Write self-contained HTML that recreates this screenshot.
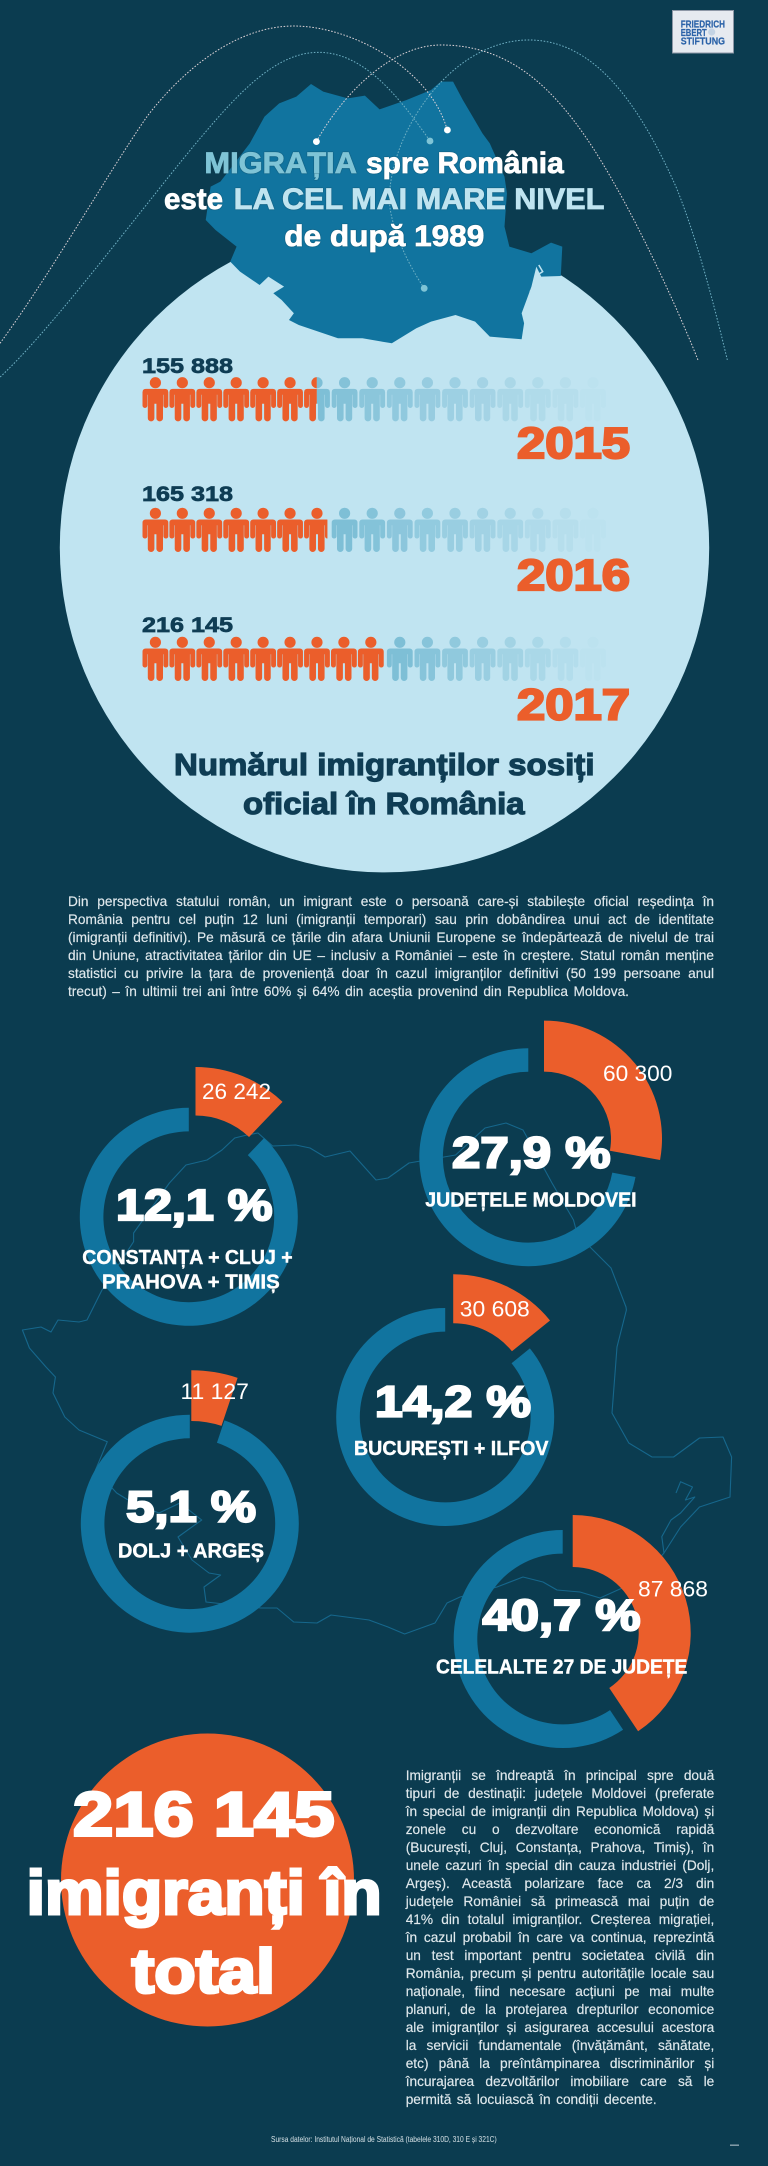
<!DOCTYPE html>
<html lang="ro">
<head>
<meta charset="utf-8">
<title>Migrația spre România</title>
<style>
html,body{margin:0;padding:0;background:#0b3c50;}
#page{position:relative;width:768px;height:2166px;overflow:hidden;background:#0b3c50;font-family:"Liberation Sans",sans-serif;}
svg{position:absolute;left:0;top:0;}
text{font-family:"Liberation Sans",sans-serif;}
.h{font-weight:700;}
.para{position:absolute;color:#dfe8ec;font-size:13.7px;line-height:18px;font-family:"Liberation Sans",sans-serif;-webkit-text-stroke:.15px #dfe8ec;}
.para div{height:18px;white-space:nowrap;text-align:justify;text-align-last:justify;}
</style>
</head>
<body>
<div id="page">
<svg id="art" width="768" height="2166" viewBox="0 0 768 2166" xmlns="http://www.w3.org/2000/svg">
  <defs>
    <path id="person" d="M-9.6,6.2H9.6Q12.9,6.2 12.9,9.5V22.8A2.45,2.45 0 0 1 8,22.8V12H7.6V35.4A3.3,3.3 0 0 1 1,35.4V21H-1V35.4A3.3,3.3 0 0 1 -7.6,35.4V12H-8V22.8A2.45,2.45 0 0 1 -12.9,22.8V9.5Q-12.9,6.2 -9.6,6.2ZM5.6,0A5.6,5.6 0 1 1 -5.6,0A5.6,5.6 0 1 1 5.6,0Z"/>
  </defs>

  <circle cx="384.5" cy="547.7" r="324.7" fill="#c0e4f1"/>

  <g transform="scale(.4898,.3333)">
    <polygon fill="#11749f" points="605,290 635,252 660,275 710,295 745,287 775,328 830,300 880,270 900,245 925,245 945,300 965,350 985,400 1000,430 1030,530 1035,580 1030,680 1040,740 1085,760 1125,728 1148,740 1145,828 1105,830 1095,800 1085,860 1075,900 1065,940 1070,970 1065,1018 1000,1010 970,965 930,945 880,965 850,985 800,1030 740,1015 690,1015 610,975 590,960 600,940 575,900 558,880 580,860 548,830 530,855 490,815 470,785 483,740 440,690 420,660 430,560 450,545 510,430 540,350 570,310"/>
    <polyline fill="none" stroke="#c0e4f1" stroke-width="1.5" vector-effect="non-scaling-stroke" points="1100,795 1108,815 1092,830 1098,850 1082,875"/>
    <g fill="none" stroke-width="1" stroke-dasharray="1.6 1.6">
      <path vector-effect="non-scaling-stroke" stroke="#dcd2d6" d="M0,1030C100,830 220,520 300,350C370,215 480,78 600,78C720,78 880,210 913,390"/>
      <path vector-effect="non-scaling-stroke" stroke="#6fb0c4" d="M-40,1180C60,1080 270,660 400,430C480,290 560,157 650,157C740,157 810,280 878,423"/>
      <path vector-effect="non-scaling-stroke" stroke="#dcd2d6" d="M646,425C700,280 800,135 900,135C1050,135 1150,280 1250,540C1320,720 1390,950 1425,1080"/>
      <path vector-effect="non-scaling-stroke" stroke="#6fb0c4" d="M866,865C810,740 795,640 795,600C795,400 920,120 1080,120C1220,120 1310,330 1380,560C1430,740 1470,990 1485,1080"/>
    </g>
  </g>
  <circle cx="447.4" cy="130" r="3.4" fill="#fff"/>
  <circle cx="430" cy="141" r="3.4" fill="#7fc4d6"/>
  <circle cx="316.4" cy="141.6" r="3.4" fill="#fff"/>
  <circle cx="424.2" cy="288.3" r="3.4" fill="#7fc4d6"/>

  <g style="filter:drop-shadow(.8px .8px .6px #0b3c50)">
    <text class="h" x="204.4" y="173" font-size="30" fill="#7fc4d6" stroke="#7fc4d6" stroke-width=".8" textLength="152.5" lengthAdjust="spacingAndGlyphs">MIGRAȚIA</text>
    <text class="h" x="366" y="173" font-size="30" fill="#fff" stroke="#fff" stroke-width=".8" textLength="197.7" lengthAdjust="spacingAndGlyphs">spre România</text>
    <text class="h" x="164" y="209" font-size="30" fill="#fff" stroke="#fff" stroke-width=".8" textLength="59" lengthAdjust="spacingAndGlyphs">este</text>
    <text class="h" x="233.8" y="209" font-size="30" fill="#bfe4f0" stroke="#bfe4f0" stroke-width=".8" textLength="370.6" lengthAdjust="spacingAndGlyphs">LA CEL MAI MARE NIVEL</text>
    <text class="h" x="284.3" y="246" font-size="30" fill="#fff" stroke="#fff" stroke-width=".8" textLength="200" lengthAdjust="spacingAndGlyphs">de după 1989</text>
  </g>

  <g>
    <rect x="672.5" y="10.5" width="61" height="42.5" fill="#e6eaf0" stroke="#8d97a6" stroke-width="1"/>
    <circle cx="711.7" cy="32" r="3.6" fill="#c3d3e4"/>
    <text class="h" x="680.7" y="27.7" font-size="10.2" fill="#2a62a8" stroke="#2a62a8" stroke-width=".2" textLength="44.3" lengthAdjust="spacingAndGlyphs">FRIEDRICH</text>
    <text class="h" x="680.7" y="35.8" font-size="10.2" fill="#2a62a8" stroke="#2a62a8" stroke-width=".2" textLength="26" lengthAdjust="spacingAndGlyphs">EBERT</text>
    <text class="h" x="680.7" y="44.3" font-size="10.2" fill="#2a62a8" stroke="#2a62a8" stroke-width=".2" textLength="44.3" lengthAdjust="spacingAndGlyphs">STIFTUNG</text>
  </g>

  <g id="rows"></g>

  <text class="h" x="174" y="775" font-size="31" fill="#0f3d54" stroke="#0f3d54" stroke-width="1.2" textLength="420.5" lengthAdjust="spacingAndGlyphs">Numărul imigranților sosiți</text>
  <text class="h" x="243" y="814" font-size="31" fill="#0f3d54" stroke="#0f3d54" stroke-width="1.2" textLength="281.6" lengthAdjust="spacingAndGlyphs">oficial în România</text>

  <g fill="none" stroke="#16678c" stroke-width="1.1" stroke-linejoin="round">
    <polygon points="22.4,1330 41,1327 51,1332 58,1320 79,1322 87,1320 95.5,1303 102,1290 133.6,1241.7 133.6,1233 169.4,1183 186,1165 207,1160 222,1150 234.7,1138 247,1135 258,1133 272.6,1146 295.7,1145 310,1148 325,1157 350,1151 376,1180 388,1178 409,1163 455.6,1155 485,1128 506,1123 523,1130 535.6,1153 552,1183 573.5,1220 575.6,1228 590,1247 611,1268 626,1307 626.4,1310 617,1347 612,1413 628.8,1443 652,1457 673.6,1457 699.5,1438 723,1437 731.6,1457 730,1497 699.5,1507 680.6,1527 664,1553 640,1580 600,1598 580,1592 557,1590 543,1582 523,1577 497,1587 460,1597 447,1603 435,1623 404.6,1634 388,1627 369,1620 331,1615 317,1623 293.7,1622 277,1608 260.7,1608 206,1602 204,1587 220.6,1575 209,1573 192,1560 178,1537 201.7,1520 180,1503 159,1513 133,1503 116.7,1493 95.5,1470 107.3,1441.7 79,1430 64.8,1417 53,1393 55.4,1377 46,1367 29.4,1348"/>
    <polyline points="676,1493 680.6,1481.7 692.5,1487 685.4,1500 694.8,1497 680.6,1513 671,1520 661.8,1536.7 664,1553"/>
  </g>

  <g id="donuts"></g>

  <g fill="#fff" stroke="#fff" stroke-width=".4" font-size="20" font-weight="700">
    <text x="82.3" y="1264" textLength="210.4" lengthAdjust="spacingAndGlyphs">CONSTANȚA + CLUJ +</text>
    <text x="102" y="1288.3" textLength="177.7" lengthAdjust="spacingAndGlyphs">PRAHOVA + TIMIȘ</text>
    <text x="425.3" y="1206.7" textLength="211.3" lengthAdjust="spacingAndGlyphs">JUDEȚELE MOLDOVEI</text>
    <text x="354" y="1455" textLength="194.5" lengthAdjust="spacingAndGlyphs">BUCUREȘTI + ILFOV</text>
    <text x="118" y="1557.3" textLength="146" lengthAdjust="spacingAndGlyphs">DOLJ + ARGEȘ</text>
    <text x="436" y="1673.5" textLength="251.3" lengthAdjust="spacingAndGlyphs">CELELALTE 27 DE JUDEȚE</text>
  </g>

  <circle cx="207.5" cy="1880" r="146.5" fill="#eb5e2b"/>
  <g fill="#fff" stroke="#fff" stroke-width="3" font-size="62" font-weight="700">
    <text x="73" y="1835.5" textLength="261.5" lengthAdjust="spacingAndGlyphs">216 145</text>
    <text x="26.7" y="1914" textLength="355" lengthAdjust="spacingAndGlyphs">imigranți în</text>
    <text x="131.7" y="1992.5" textLength="143.3" lengthAdjust="spacingAndGlyphs">total</text>
  </g>

  <text x="271" y="2142" font-size="8" fill="#d5e0e5" textLength="225.7" lengthAdjust="spacingAndGlyphs">Sursa datelor: Institutul Național de Statistică (tabelele 310D, 310 E și 321C)</text>
  <rect x="730" y="2144.5" width="9" height="1.4" fill="#8da4b0"/>
</svg>

<div class="para" style="left:68px;top:893px;width:646px;">
<div>Din perspectiva statului român, un imigrant este o persoană care-și stabilește oficial reședința în</div>
<div>România pentru cel puțin 12 luni (imigranții temporari) sau prin dobândirea unui act de identitate</div>
<div>(imigranții definitivi). Pe măsură ce țările din afara Uniunii Europene se îndepărtează de nivelul de trai</div>
<div>din Uniune, atractivitatea țărilor din UE – inclusiv a României – este în creștere. Statul român menține</div>
<div>statistici cu privire la țara de proveniență doar în cazul imigranților definitivi (50 199 persoane anul</div>
<div style="width:561px">trecut) – în ultimii trei ani între 60% și 64% din aceștia provenind din Republica Moldova.</div>
</div>

<div class="para" style="left:405.7px;top:1766.5px;width:308.6px;">
<div>Imigranții se îndreaptă în principal spre două</div>
<div>tipuri de destinații: județele Moldovei (preferate</div>
<div>în special de imigranții din Republica Moldova) și</div>
<div>zonele cu o dezvoltare economică rapidă</div>
<div>(București, Cluj, Constanța, Prahova, Timiș), în</div>
<div>unele cazuri în special din cauza industriei (Dolj,</div>
<div>Argeș). Această polarizare face ca 2/3 din</div>
<div>județele României să primească mai puțin de</div>
<div>41% din totalul imigranților. Creșterea migrației,</div>
<div>în cazul probabil în care va continua, reprezintă</div>
<div>un test important pentru societatea civilă din</div>
<div>România, precum și pentru autoritățile locale sau</div>
<div>naționale, fiind necesare acțiuni pe mai multe</div>
<div>planuri, de la protejarea drepturilor economice</div>
<div>ale imigranților și asigurarea accesului acestora</div>
<div>la servicii fundamentale (învățământ, sănătate,</div>
<div>etc) până la preîntâmpinarea discriminărilor și</div>
<div>încurajarea dezvoltărilor imobiliare care să le</div>
<div style="width:251px">permită să locuiască în condiții decente.</div>
</div>
</div>

<script>
// Pictogram data
var rowYears = ['2015', '2016', '2017'];
var rowValues = [155888, 165318, 216145];
var rowValueLabels = ['155 888', '165 318', '216 145'];
var peoplePerIcon = 24000;
var iconSlotCount = 17;

// Donut data
var countyCounts = [26242, 60300, 30608, 11127, 87868];
var countyCountLabels = ['26 242', '60 300', '30 608', '11 127', '87 868'];
var countySharesLabels = ['12,1 %', '27,9 %', '14,2 %', '5,1 %', '40,7 %'];

var NS = 'http://www.w3.org/2000/svg';
var ORANGE = '#eb5e2b', BLUE = '#11749f';

function mk(tag, parent) {
  var el = document.createElementNS(NS, tag);
  parent.appendChild(el);
  return el;
}

function put(el, props) {
  for (var k in props) el.setAttribute(k, props[k]);
  return el;
}

// Pictogram axis functions
function unitToOrangeX(u) { return 155.4 + 26.93 * u; }
function slotToFadedX(i) { return 151.4 + 27.6 * i; }

// Row panel placement
var rowHeadTop = [382.7, 513.3, 642.3];
var rowLabelBase = [373, 501, 632];
var rowYearBase = [458, 590, 719.5];

var rowsG = document.getElementById('rows');
rowValues.forEach(function (value, r) {
  var units = value / peoplePerIcon;
  var clipX = unitToOrangeX(units - 0.5);
  var head = rowHeadTop[r];

  var label = mk('text', rowsG);
  
  
  put(label, {x: 142, y: rowLabelBase[r], 'font-size': 21.5, 'font-weight': 700, fill: '#0f3d54', stroke: '#0f3d54', 'stroke-width': .7, textLength: 91, lengthAdjust: 'spacingAndGlyphs'});
  label.textContent = rowValueLabels[r];

  var year = mk('text', rowsG);
  
  
  put(year, {x: 517, y: rowYearBase[r], 'font-size': 44, 'font-weight': 700, fill: ORANGE, stroke: ORANGE, 'stroke-width': 2.2, textLength: 113, lengthAdjust: 'spacingAndGlyphs'});
  year.textContent = rowYears[r];

  var defs = mk('clipPath', rowsG);
  defs.setAttribute('id', 'clip-orange-' + r);
  put(mk('rect', defs), {x: 0, y: head - 10, width: clipX, height: 60});
  var defsB = mk('clipPath', rowsG);
  defsB.setAttribute('id', 'clip-faded-' + r);
  put(mk('rect', defsB), {x: clipX, y: head - 10, width: 768 - clipX, height: 60});

  var orangeG = mk('g', rowsG);
  
  
  orangeG.setAttribute('clip-path', 'url(#clip-orange-' + r + ')');
  var fadedG = mk('g', rowsG);
  
  
  fadedG.setAttribute('clip-path', 'url(#clip-faded-' + r + ')');

  for (var i = 0; i < Math.ceil(units); i++) {
    var p = mk('use', orangeG);
    
    
    put(p, {href: '#person', x: unitToOrangeX(i), y: head, fill: ORANGE});
  }
  var firstFaded = Math.ceil(units - 0.5);
  for (var j = firstFaded; j < iconSlotCount; j++) {
    var q = mk('use', fadedG);
    
    
    put(q, {href: '#person', x: slotToFadedX(j), y: head, fill: '#6db5cf', opacity: (0.8 - 0.76 * (j - firstFaded) / (iconSlotCount - 1 - firstFaded)).toFixed(3)});
  }
});

// Donut panel placement
var donutRingCentre = [[188.8, 1216.8], [528.3, 1157.2], [445.2, 1417], [189.8, 1523.7], [562.7, 1639]];
var donutWedgeCentre = [[195.5, 1193], [544, 1138.6], [453.2, 1398.9], [191.3, 1516], [572.7, 1633]];
var donutWedgeRadii = [[77.5, 126], [67, 118], [75.6, 124.6], [95, 145.7], [66, 118]];
var donutCountPlace = [[202, 1099, 69], [603, 1081, 69.4], [459.8, 1316.7, 70], [180.5, 1399, 68.4], [638, 1596.7, 70]];
var donutSharePlace = [[116, 1220, 156.5], [452, 1167.3, 158.5], [374.9, 1416.3, 156], [126.2, 1521.7, 129.8], [482.5, 1630, 158]];
var RING_OUTER = 109, RING_INNER = 85.4;

function countToDeg(c, total) { return c / total * 360; }
function polar(cx, cy, r, deg) {
  var a = deg * Math.PI / 180;
  return [cx + r * Math.sin(a), cy - r * Math.cos(a)];
}
function sectorPath(cx, cy, ri, ro, a0, a1) {
  var large = (a1 - a0) > 180 ? 1 : 0;
  var p1 = polar(cx, cy, ro, a0), p2 = polar(cx, cy, ro, a1), p3 = polar(cx, cy, ri, a1), p4 = polar(cx, cy, ri, a0);
  return 'M' + p1.join(',') + 'A' + ro + ',' + ro + ' 0 ' + large + ' 1 ' + p2.join(',') +
         'L' + p3.join(',') + 'A' + ri + ',' + ri + ' 0 ' + large + ' 0 ' + p4.join(',') + 'Z';
}

var donutsG = document.getElementById('donuts');
var countyTotal = countyCounts.reduce(function (a, b) { return a + b; }, 0);
countyCounts.forEach(function (count, d) {
  var deg = countToDeg(count, countyTotal);
  var c = donutRingCentre[d], w = donutWedgeCentre[d], rr = donutWedgeRadii[d];

  var ring = mk('path', donutsG);
  
  
  put(ring, {d: sectorPath(c[0], c[1], RING_INNER, RING_OUTER, deg, 360), fill: BLUE});

  var wedge = mk('path', donutsG);
  
  
  put(wedge, {d: sectorPath(w[0], w[1], rr[0], rr[1], 0, deg), fill: ORANGE});
});
countyCounts.forEach(function (count, d) {
  var cp = donutCountPlace[d], sp = donutSharePlace[d];

  var cnt = mk('text', donutsG);
  
  
  put(cnt, {x: cp[0], y: cp[1], 'font-size': 22.5, fill: '#fff', textLength: cp[2], lengthAdjust: 'spacingAndGlyphs'});
  cnt.textContent = countyCountLabels[d];

  var sh = mk('text', donutsG);
  
  
  put(sh, {x: sp[0], y: sp[1], 'font-size': 44, 'font-weight': 700, fill: '#fff', stroke: '#fff', 'stroke-width': 2.2, textLength: sp[2], lengthAdjust: 'spacingAndGlyphs'});
  sh.textContent = countySharesLabels[d];
});
</script>
</body>
</html>
